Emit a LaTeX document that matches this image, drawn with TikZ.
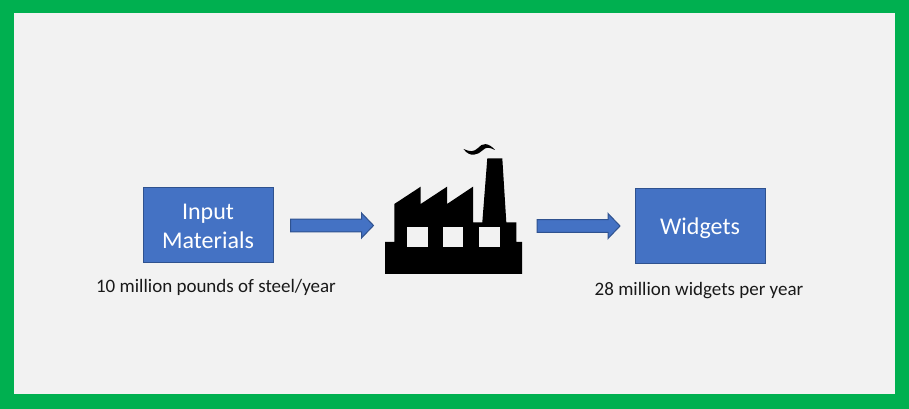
\documentclass[tikz,border=0pt]{standalone}
\usepackage{fontspec}
\setmainfont{Carlito}
\usetikzlibrary{calc}
\definecolor{framegreen}{HTML}{00B050}
\definecolor{panelgray}{HTML}{F2F2F2}
\definecolor{boxblue}{HTML}{4472C4}
\definecolor{boxline}{HTML}{2F528F}
\tikzset{
    blockbox/.style={draw=boxline,fill=boxblue,text=white,line width=0.75pt,minimum width=97.5pt,minimum height=56.25pt,align=center,inner sep=0pt,font=\fontsize{18}{21.5}\selectfont},
    flowarrow/.style={draw=boxline,fill=boxblue,line width=0.75pt,to path={let \p1=(\tikztostart),\p2=(\tikztotarget) in (\x1,\y1+4.7pt) -- (\x2-9pt,\y1+4.7pt) -- (\x2-9pt,\y1+9.4pt) -- (\x2,\y1) -- (\x2-9pt,\y1-9.4pt) -- (\x2-9pt,\y1-4.7pt) -- (\x1,\y1-4.7pt) -- cycle}},
    caption/.style={text=black!90,inner sep=0pt,font=\fontsize{14.25}{17}\selectfont}
}
\begin{document}
\begin{tikzpicture}[x=0.75pt,y=-0.75pt]
    \useasboundingbox (0,0) rectangle (909,409);
    \fill[framegreen] (0,0) rectangle (909,409);
    \fill[panelgray] (14,13) rectangle (895,394);
    \node[blockbox,text height=35pt,text depth=0pt] (input) at (208,225) {Input\\Materials};
    \node[blockbox,text height=16.3pt,text depth=3.5pt] (widgets) at (700,226) {Widgets};
    \node[caption] (inputnote) at (216,287.5) {10 million pounds of steel/year};
    \node[caption] (widgetsnote) at (699,290.5) {28 million widgets per year};
    % factory
    \fill[black] (385,274) -- (385,242) -- (394.3,242) -- (394.3,204) -- (420.7,186.7) -- (420.7,204) -- (447,186.7) -- (447,204) -- (473,186.7) -- (473,222.3) -- (482.3,222.3) -- (487.3,158.3) -- (502.3,158.3) -- (506.3,222.3) -- (516.3,222.3) -- (516.3,242) -- (522,242) -- (522,274) -- cycle;
    \foreach \winx in {407.3,442.7,479}
        \fill[panelgray] (\winx,227.3) rectangle ++(20.5,19.4);
    \fill[black] (463.5,149) .. controls (470,152) and (474,152) .. (478,148) .. controls (482,143) and (488,142) .. (495,150) .. controls (489,147) and (486,147) .. (483,150) .. controls (478,155) and (470,158) .. (463.5,149);
    \coordinate (factoryin) at (373.5,225.5);
    \coordinate (factoryout) at (537,226);
    \draw[flowarrow] ($(input.east |- factoryin)+(17,0)$) to (factoryin);
    \draw[flowarrow] (factoryout) to ($(widgets.west |- factoryout)+(-14.5,0)$);
\end{tikzpicture}
\end{document}
